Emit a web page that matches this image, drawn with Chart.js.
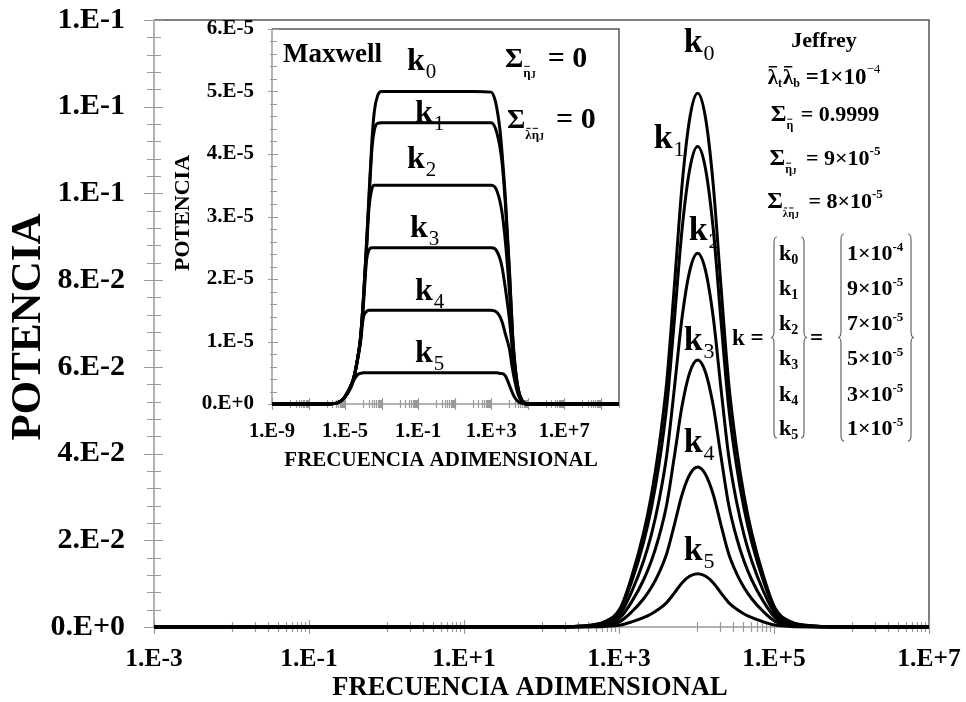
<!DOCTYPE html>
<html>
<head>
<meta charset="utf-8">
<script src="https://cdn.jsdelivr.net/npm/chart.js@4.4.1/dist/chart.umd.min.js"></script>
<style>
  html, body { margin: 0; padding: 0; background: #fff; }
  #wrap { position: relative; width: 966px; height: 702px; overflow: hidden; }
  #main { position: absolute; left: 0; top: 0; }
  #inset { position: absolute; left: 168px; top: 18px; }
</style>
</head>
<body>
<div id="wrap">
  <canvas id="main" width="966" height="702"></canvas>
  <canvas id="inset" width="458" height="462"></canvas>
</div>
<script>
// ---- Jeffrey fluid (main plot): potencia vs frecuencia adimensional ----
const jeffreyFreq = [1e-3, 1e2, 3.27e2, 6.53e2, 1.035e3, 1.462e3, 2.065e3, 2.6e3, 3.273e3, 4.121e3, 5.188e3, 6.531e3, 8.222e3,
  1.035e4, 1.303e4, 1.641e4, 2.065e4, 2.6e4, 3.273e4, 4.121e4, 5.188e4, 7.328e4, 1.035e5, 1.641e5, 3.273e5, 1.035e6, 1e7];
const jeffreyK0 = [0, 0, 0.00025, 0.00123, 0.00431, 0.01169, 0.02154, 0.03016, 0.04148, 0.05638, 0.07878, 0.10217, 0.11756,
  0.1231, 0.11756, 0.10217, 0.07878, 0.05638, 0.04148, 0.03016, 0.02154, 0.01169, 0.00431, 0.00123, 0.00025, 0, 0];
const jeffreyK1 = [0, 0, 0.00022, 0.00111, 0.00388, 0.01053, 0.01939, 0.02715, 0.03734, 0.05075, 0.07091, 0.09196, 0.10581,
  0.1108, 0.10581, 0.09196, 0.07091, 0.05075, 0.03734, 0.02715, 0.01939, 0.01053, 0.00388, 0.00111, 0.00022, 0, 0];
const jeffreyK2 = [0, 0, 0.00017, 0.00086, 0.00302, 0.00819, 0.01509, 0.02112, 0.02905, 0.03948, 0.05517, 0.07155, 0.08232,
  0.0862, 0.08232, 0.07155, 0.05517, 0.03948, 0.02905, 0.02112, 0.01509, 0.00819, 0.00302, 0.00086, 0.00017, 0, 0];
const jeffreyK3 = [0, 0, 0.00012, 0.00062, 0.00216, 0.00585, 0.01078, 0.01509, 0.02076, 0.02821, 0.03942, 0.05113, 0.05883,
  0.0616, 0.05883, 0.05113, 0.03942, 0.02821, 0.02076, 0.01509, 0.01078, 0.00585, 0.00216, 0.00062, 0.00012, 0, 0];
const jeffreyK4 = [0, 0, 0.00007, 0.00037, 0.00129, 0.00351, 0.00646, 0.00904, 0.01244, 0.0169, 0.02362, 0.03063, 0.03524,
  0.0369, 0.03524, 0.03063, 0.02362, 0.0169, 0.01244, 0.00904, 0.00646, 0.00351, 0.00129, 0.00037, 0.00007, 0, 0];
const jeffreyK5 = [0, 0, 0.00002, 0.00012, 0.00043, 0.00117, 0.00215, 0.00301, 0.00415, 0.00563, 0.00787, 0.01021, 0.01175,
  0.0123, 0.01175, 0.01021, 0.00787, 0.00563, 0.00415, 0.00301, 0.00215, 0.00117, 0.00043, 0.00012, 0.00002, 0, 0];

// ---- Maxwell fluid (inset), potencia in units of 1e-5 ----
const maxwellFreq = [1e-9, 1e-6, 3e-6, 6e-6, 1e-5, 2e-5, 3e-5, 5e-5, 7e-5, 1e-4, 1.5e-4, 2e-4, 3e-4, 4e-4, 6e-4, 1e-3,
  1e-2, 1e2, 1e3, 1.5e3, 2e3, 3e3, 4e3, 6e3, 1e4, 1.5e4, 2e4, 3e4, 5e4, 1e5, 1e6, 1e10];
const maxwellK0 = [0, 0, 0.01, 0.05, 0.12, 0.28, 0.42, 0.75, 1.06, 1.67, 2.58, 3.28, 4.24, 4.68, 4.93, 5.0,
  5.0, 5.0, 4.99, 4.9, 4.75, 4.4, 4.0, 3.3, 2.15, 1.1, 0.64, 0.25, 0.05, 0, 0, 0];
const maxwellK1 = [0, 0, 0.01, 0.05, 0.12, 0.28, 0.42, 0.75, 1.06, 1.66, 2.55, 3.22, 4.1, 4.38, 4.49, 4.5,
  4.5, 4.5, 4.5, 4.45, 4.35, 4.12, 3.85, 3.2, 2.1, 1.08, 0.62, 0.24, 0.05, 0, 0, 0];
const maxwellK2 = [0, 0, 0.01, 0.05, 0.12, 0.28, 0.42, 0.75, 1.05, 1.64, 2.45, 3.1, 3.45, 3.5, 3.5, 3.5,
  3.5, 3.5, 3.5, 3.48, 3.42, 3.25, 3.05, 2.6, 1.8, 1.0, 0.58, 0.23, 0.05, 0, 0, 0];
const maxwellK3 = [0, 0, 0.01, 0.05, 0.12, 0.28, 0.42, 0.74, 1.03, 1.56, 2.3, 2.46, 2.5, 2.5, 2.5, 2.5,
  2.5, 2.5, 2.5, 2.49, 2.45, 2.33, 2.18, 1.85, 1.35, 0.82, 0.5, 0.2, 0.04, 0, 0, 0];
const maxwellK4 = [0, 0, 0.01, 0.05, 0.12, 0.28, 0.41, 0.72, 0.98, 1.38, 1.48, 1.5, 1.5, 1.5, 1.5, 1.5,
  1.5, 1.5, 1.5, 1.49, 1.47, 1.4, 1.31, 1.12, 0.88, 0.55, 0.36, 0.15, 0.035, 0, 0, 0];
const maxwellK5 = [0, 0, 0.01, 0.05, 0.11, 0.25, 0.38, 0.47, 0.49, 0.5, 0.5, 0.5, 0.5, 0.5, 0.5, 0.5,
  0.5, 0.5, 0.5, 0.5, 0.5, 0.49, 0.49, 0.45, 0.3, 0.17, 0.1, 0.04, 0.01, 0, 0, 0];

// tick labels
const mainXLabels = [1e-3, 1e-1, 1e1, 1e3, 1e5, 1e7];
const insetXLabels = [1e-9, 1e-5, 1e-1, 1e3, 1e7];
const kNames = ['k0', 'k1', 'k2', 'k3', 'k4', 'k5'];
const kValues = ['1×10|-4', '9×10|-5', '7×10|-5', '5×10|-5', '3×10|-5', '1×10|-5'];

const SERIF = "'Liberation Serif', 'Times New Roman', serif";
const font = (size, bold) => (bold ? 'bold ' : '') + size + 'px ' + SERIF;

// excel style "0.E+0" number format
function sciLabel(v) {
  return Number(v).toExponential(0).replace('e', '.E');
}

// pieces drawn left to right on one baseline: {t, size, bold, dy, bar, gap}
function run(ctx, x, y, pieces, align) {
  let total = 0;
  pieces.forEach(p => {
    ctx.font = font(p.size, p.bold);
    p.tw = ctx.measureText(p.t).width;
    total += p.tw + (p.gap || 0);
  });
  let cx = align === 'center' ? x - total / 2 : x;
  ctx.textAlign = 'left';
  ctx.textBaseline = 'alphabetic';
  ctx.fillStyle = '#000';
  pieces.forEach(p => {
    ctx.font = font(p.size, p.bold);
    const by = y + (p.dy || 0);
    ctx.fillText(p.t, cx, by);
    if (p.bar) {
      const top = by - p.size * 0.82;
      ctx.strokeStyle = '#000';
      ctx.lineWidth = Math.max(1, p.size / 14);
      ctx.beginPath();
      ctx.moveTo(cx + 1, top);
      ctx.lineTo(cx + p.tw - 1, top);
      ctx.stroke();
    }
    cx += p.tw + (p.gap || 0);
  });
}

// curly brace, dir = 1 opens to the right, -1 opens to the left
function brace(ctx, x, top, bottom, dir) {
  const w = 3, r = 6, mid = (top + bottom) / 2;
  ctx.strokeStyle = '#666';
  ctx.lineWidth = 1.2;
  ctx.beginPath();
  ctx.moveTo(x + dir * w, top);
  ctx.quadraticCurveTo(x, top, x, top + r);
  ctx.lineTo(x, mid - r);
  ctx.quadraticCurveTo(x, mid, x - dir * w, mid);
  ctx.quadraticCurveTo(x, mid, x, mid + r);
  ctx.lineTo(x, bottom - r);
  ctx.quadraticCurveTo(x, bottom, x + dir * w, bottom);
  ctx.stroke();
}

// tick positions for a log axis with a major unit of two decades
function logTickSet(minExp, maxExp) {
  const majors = [], minors = [];
  const lo = Math.pow(10, minExp), hi = Math.pow(10, maxExp);
  for (let e = minExp; e <= maxExp; e += 2) {
    majors.push(Math.pow(10, e));
    for (let m = 1; m <= 9; m++) {
      const v = m * Math.pow(10, e + 1);
      if (v >= lo && v <= hi * 1.0001) minors.push(v);
    }
  }
  return { majors, minors };
}
function linTickSet(max, major, minor) {
  const majors = [], minors = [];
  for (let i = 0; i * minor <= max + 1e-12; i++) {
    const v = i * minor;
    if (Math.abs(v / major - Math.round(v / major)) < 1e-6) majors.push(v); else minors.push(v);
  }
  return { majors, minors };
}

function drawTicks(ctx, scale, values, inner, outer) {
  const horiz = scale.isHorizontal();
  ctx.beginPath();
  values.forEach(v => {
    const p = Math.round(scale.getPixelForValue(v)) + 0.5;
    if (horiz) { ctx.moveTo(p, scale.top - inner); ctx.lineTo(p, scale.top + outer); }
    else { ctx.moveTo(scale.right - outer, p); ctx.lineTo(scale.right + inner, p); }
  });
  ctx.stroke();
}

// axes, frame and tick marks drawn under the curves; bgTop leaves a clear strip at the top
function framePlugin(xt, yt, tl, bgTop) {
  return {
    id: 'frame',
    beforeDraw(chart) {
      const ctx = chart.ctx;
      ctx.save();
      ctx.fillStyle = '#fff';
      ctx.fillRect(0, bgTop, chart.width, chart.height - bgTop);
      ctx.restore();
    },
    beforeDatasetsDraw(chart) {
      const { ctx, chartArea: a, scales } = chart;
      ctx.save();
      ctx.strokeStyle = '#555';
      ctx.lineWidth = 1.5;
      ctx.beginPath();
      ctx.moveTo(a.left, a.top); ctx.lineTo(a.right, a.top); ctx.lineTo(a.right, a.bottom);
      ctx.stroke();
      ctx.strokeStyle = '#9a9a9a';
      ctx.lineWidth = 1.5;
      ctx.beginPath();
      ctx.moveTo(a.left, a.top); ctx.lineTo(a.left, a.bottom); ctx.lineTo(a.right, a.bottom);
      ctx.stroke();
      ctx.lineWidth = 1.2;
      drawTicks(ctx, scales.x, xt.majors, tl.xMaj, tl.xMaj);
      drawTicks(ctx, scales.x, xt.minors, tl.xMin, tl.xMin);
      drawTicks(ctx, scales.y, yt.majors, tl.yMajIn, tl.yMajOut);
      drawTicks(ctx, scales.y, yt.minors, tl.yMinIn, tl.yMinOut);
      ctx.restore();
    }
  };
}

// fixed axis sizes; label overhang must not push the plot area inwards
const fixWidth = w => s => { s.width = w; s.paddingTop = 0; s.paddingBottom = 0; };
const fixHeight = h => s => { s.height = h; s.paddingLeft = 0; s.paddingRight = 0; };

function seriesSet(freq, list) {
  return list.map(vals => ({
    data: freq.map((f, i) => ({ x: f, y: vals[i] })),
    borderColor: '#000',
    borderWidth: 3,
    pointRadius: 0,
    fill: false,
    clip: 6,
    cubicInterpolationMode: 'monotone'
  }));
}

// ---------- main chart ----------
const jeffreySeries = [jeffreyK0, jeffreyK1, jeffreyK2, jeffreyK3, jeffreyK4, jeffreyK5];
// label offsets from each peak, pixels
const peakLabelOffset = [[-14, -41], [-44, 1], [-9, -13], [-14, -10], [-14, -15], [-14, -14]];

const mainNotes = {
  id: 'mainNotes',
  afterDatasetsDraw(chart) {
    const { ctx, scales } = chart;
    ctx.save();
    // k labels next to each peak
    jeffreySeries.forEach((vals, i) => {
      const top = Math.max(...vals);
      const px = scales.x.getPixelForValue(jeffreyFreq[vals.indexOf(top)]);
      const py = scales.y.getPixelForValue(top);
      const [dx, dy] = peakLabelOffset[i];
      run(ctx, px + dx, py + dy, [
        { t: 'k', size: 34, bold: true, gap: 1 },
        { t: String(i), size: 22, bold: false, dy: 8 }
      ]);
    });

    // parameters of the Jeffrey model
    run(ctx, 824, 47, [{ t: 'Jeffrey', size: 22, bold: true }], 'center');
    run(ctx, 824, 84, [
      { t: 'λ', size: 21, bold: true, bar: true },
      { t: 't', size: 12, bold: true, dy: 3, gap: 1 },
      { t: 'λ', size: 21, bold: true, bar: true },
      { t: 'b', size: 12, bold: true, dy: 3 },
      { t: ' =1×10', size: 23, bold: true },
      { t: '−4', size: 13, dy: -11 }
    ], 'center');
    run(ctx, 825, 121, [
      { t: 'Σ', size: 24, bold: true },
      { t: 'η', size: 12, bold: true, dy: 8, bar: true, gap: 2 },
      { t: ' = 0.9999', size: 22, bold: true }
    ], 'center');
    run(ctx, 825, 165, [
      { t: 'Σ', size: 24, bold: true },
      { t: 'η', size: 12, bold: true, dy: 8, bar: true },
      { t: 'J', size: 9, bold: true, dy: 9, gap: 4 },
      { t: ' = 9×10', size: 22, bold: true },
      { t: '-5', size: 13, bold: true, dy: -10 }
    ], 'center');
    run(ctx, 825, 208, [
      { t: 'Σ', size: 24, bold: true },
      { t: 'λ', size: 11, bold: true, dy: 9, bar: true },
      { t: 'η', size: 11, bold: true, dy: 9, bar: true },
      { t: 'J', size: 9, bold: true, dy: 10, gap: 4 },
      { t: ' = 8×10', size: 22, bold: true },
      { t: '-5', size: 13, bold: true, dy: -10 }
    ], 'center');

    // k vector
    run(ctx, 732, 345, [{ t: 'k =', size: 23, bold: true }]);
    brace(ctx, 774, 237, 438, 1);
    brace(ctx, 804, 237, 438, -1);
    run(ctx, 810, 345, [{ t: '=', size: 23, bold: true }]);
    brace(ctx, 841, 234, 441, 1);
    brace(ctx, 911, 234, 441, -1);
    const rows = [260, 295, 330, 365, 401, 435];
    rows.forEach((y, i) => {
      run(ctx, 779, y, [
        { t: 'k', size: 22, bold: true },
        { t: kNames[i].slice(1), size: 14, bold: true, dy: 4 }
      ]);
      const [base, exp] = kValues[i].split('|');
      run(ctx, 847, y, [
        { t: base, size: 22, bold: true },
        { t: exp, size: 13, bold: true, dy: -9 }
      ]);
    });

    // axis titles
    ctx.fillStyle = '#000';
    ctx.font = font(26.5, true);
    ctx.textAlign = 'center';
    ctx.textBaseline = 'middle';
    ctx.fillText('FRECUENCIA ADIMENSIONAL', 530, 688);
    ctx.translate(29, 327);
    ctx.rotate(-Math.PI / 2);
    ctx.font = font(43, true);
    ctx.fillText('POTENCIA', 0, 0);
    ctx.restore();
  }
};

new Chart(document.getElementById('main'), {
  type: 'line',
  data: { datasets: seriesSet(jeffreyFreq, jeffreySeries) },
  options: {
    responsive: false,
    animation: false,
    devicePixelRatio: 1,
    layout: { padding: { left: 0, right: 37, top: 20, bottom: 0 } },
    plugins: { legend: { display: false }, tooltip: { enabled: false } },
    scales: {
      x: {
        type: 'logarithmic',
        min: 1e-3,
        max: 1e7,
        afterBuildTicks: s => { s.ticks = mainXLabels.map(v => ({ value: v })); },
        afterFit: fixHeight(75),
        grid: { display: false, drawTicks: false },
        border: { display: false },
        ticks: {
          callback: sciLabel, autoSkip: false, maxRotation: 0, padding: 17,
          color: '#000', font: { family: SERIF, size: 25.5, weight: 'bold' }
        }
      },
      y: {
        min: 0,
        max: 0.14,
        afterFit: fixWidth(154),
        grid: { display: false, drawTicks: false },
        border: { display: false },
        ticks: {
          stepSize: 0.02, callback: sciLabel, padding: 29,
          color: '#000', font: { family: SERIF, size: 30, weight: 'bold' }
        }
      }
    }
  },
  plugins: [
    framePlugin(logTickSet(-3, 7), linTickSet(0.14, 0.02, 0.004),
      { xMaj: 7, xMin: 5, yMajIn: 9, yMajOut: 10, yMinIn: 7, yMinOut: 7 }, 0),
    mainNotes
  ]
});

// ---------- inset chart ----------
const maxwellSeries = [maxwellK0, maxwellK1, maxwellK2, maxwellK3, maxwellK4, maxwellK5];
const insetKPos = [[239, 52], [247, 104], [239, 150], [242, 219], [247, 282], [247, 344]];

const insetNotes = {
  id: 'insetNotes',
  afterDatasetsDraw(chart) {
    const ctx = chart.ctx;
    ctx.save();
    run(ctx, 115, 44, [{ t: 'Maxwell', size: 27, bold: true }]);
    insetKPos.forEach(([x, y], i) => {
      run(ctx, x, y, [
        { t: 'k', size: 32, bold: true, gap: 1 },
        { t: String(i), size: 21, bold: false, dy: 8 }
      ]);
    });
    run(ctx, 337, 49, [
      { t: 'Σ', size: 28, bold: true },
      { t: 'η', size: 13, bold: true, dy: 10, bar: true },
      { t: 'J', size: 10, bold: true, dy: 11, gap: 12 },
      { t: '= 0', size: 30, bold: true }
    ]);
    run(ctx, 339, 110, [
      { t: 'Σ', size: 28, bold: true },
      { t: 'λ', size: 13, bold: true, dy: 11, bar: true },
      { t: 'η', size: 13, bold: true, dy: 11, bar: true },
      { t: 'J', size: 10, bold: true, dy: 12, gap: 12 },
      { t: '= 0', size: 30, bold: true }
    ]);
    ctx.fillStyle = '#000';
    ctx.textAlign = 'center';
    ctx.textBaseline = 'middle';
    ctx.font = font(21, true);
    ctx.fillText('FRECUENCIA ADIMENSIONAL', 273, 443);
    ctx.translate(15, 195);
    ctx.rotate(-Math.PI / 2);
    ctx.font = font(22, true);
    ctx.fillText('POTENCIA', 0, 0);
    ctx.restore();
  }
};

new Chart(document.getElementById('inset'), {
  type: 'line',
  data: { datasets: seriesSet(maxwellFreq, maxwellSeries) },
  options: {
    responsive: false,
    animation: false,
    devicePixelRatio: 1,
    layout: { padding: { left: 0, right: 7, top: 11, bottom: 0 } },
    plugins: { legend: { display: false }, tooltip: { enabled: false } },
    scales: {
      x: {
        type: 'logarithmic',
        min: 1e-9,
        max: 1e10,
        afterBuildTicks: s => { s.ticks = insetXLabels.map(v => ({ value: v })); },
        afterFit: fixHeight(76),
        grid: { display: false, drawTicks: false },
        border: { display: false },
        ticks: {
          callback: sciLabel, autoSkip: false, maxRotation: 0, padding: 15,
          color: '#000', font: { family: SERIF, size: 20.5, weight: 'bold' }
        }
      },
      y: {
        min: 0,
        max: 6,
        afterFit: fixWidth(104),
        grid: { display: false, drawTicks: false },
        border: { display: false },
        ticks: {
          stepSize: 1, padding: 18,
          callback: v => sciLabel(v * 1e-5),
          color: '#000', font: { family: SERIF, size: 21, weight: 'bold' }
        }
      }
    }
  },
  plugins: [
    framePlugin(logTickSet(-9, 10), linTickSet(6, 1, 0.2),
      { xMaj: 6, xMin: 4, yMajIn: 6, yMajOut: 4, yMinIn: 5, yMinOut: 2 }, 3.5),
    insetNotes
  ]
});
</script>
</body>
</html>
